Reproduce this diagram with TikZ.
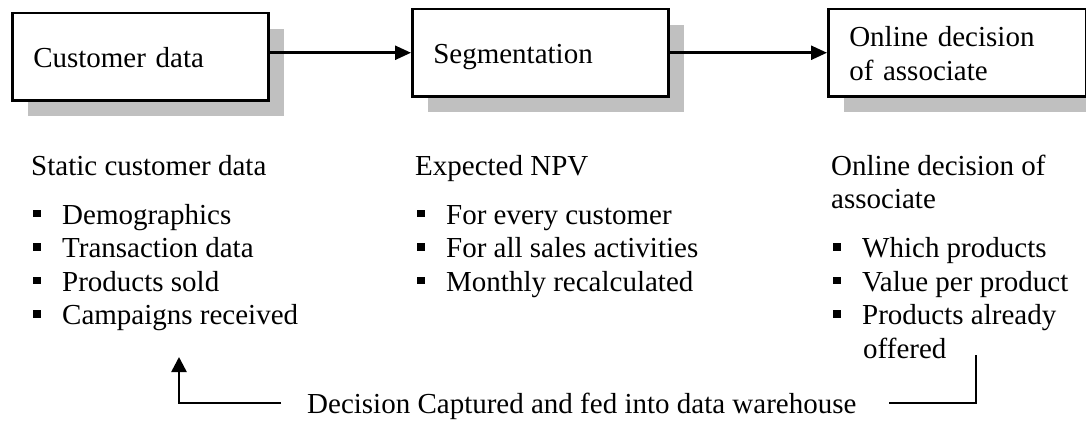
\documentclass[tikz,border=0pt]{standalone}
\usepackage{fontspec}
\setmainfont{Liberation Serif}
\usetikzlibrary{arrows.meta,shadows}
\definecolor{shadowgray}{HTML}{C0C0C0}
\newcommand\dfs{\fontsize{29pt}{33.5pt}\selectfont}
\newcommand\bul{\makebox[29pt][l]{\rule[7pt]{7.5pt}{7.5pt}}}
\tikzset{
  boxnode/.style={draw=black, line width=2.5pt, fill=white, anchor=north west,
    minimum height=87pt, inner xsep=21pt, inner ysep=0pt, align=left,
    text width=214pt, text height=21pt, text depth=0pt, font=\dfs,
    drop shadow={shadow xshift=16pt, shadow yshift=-16pt, fill=shadowgray, opacity=1}},
  arr/.style={line width=2.5pt, -{Triangle[length=16pt,width=14pt]}},
  conn/.style={line width=2.5pt},
  txt/.style={anchor=base west, inner sep=0pt, font=\dfs}
}
\begin{document}
\begin{tikzpicture}[x=1pt,y=-1pt]
\useasboundingbox (0,0) rectangle (1086,420);
% boxes
\node[boxnode] (b1) at (11,12) {Customer data};
\node[boxnode] (b2) at (411,8) {Segmentation};
\node[boxnode, text width=216pt, text depth=33.5pt] (b3) at (827,8) {Online decision\\of associate};
% arrows
\draw[arr] (b1.east |- b2.west) -- (b2.west);
\draw[arr] (b2.east) -- (b3.west);
% left column
\node[txt] (h1) at (31,175) {Static customer data};
\node[txt] (l1) at (33,224) {\bul Demographics};
\node[txt] (l2) at (33,257.5) {\bul Transaction data};
\node[txt] (l3) at (33,291) {\bul Products sold};
\node[txt] (l4) at (33,324.5) {\bul Campaigns received};
% middle column
\node[txt] (h2) at (415,175) {Expected NPV};
\node[txt] (m1) at (417,224) {\bul For every customer};
\node[txt] (m2) at (417,257.5) {\bul For all sales activities};
\node[txt] (m3) at (417,291) {\bul Monthly recalculated};
% right column
\node[txt] (h3) at (831,175) {Online decision of};
\node[txt] (h3b) at (831,208.5) {associate};
\node[txt] (r1) at (833,257.5) {\bul Which products};
\node[txt] (r2) at (833,291) {\bul Value per product};
\node[txt] (r3) at (833,324.5) {\bul Products already};
\node[txt] (r3b) at (863,358) {offered};
% feedback
\node[anchor=base west, inner xsep=26pt, inner ysep=0pt, text height=20pt, text depth=0pt, font=\dfs]
  (fb) at (281,413) {Decision Captured and fed into data warehouse};
\coordinate (rc) at (976,355);
\coordinate (lc) at (179,357);
\draw[conn] (rc) |- ([xshift=6pt]fb.east);
\draw[arr, -{Triangle[length=15pt,width=15pt]}] (fb.west) -| (lc);
\end{tikzpicture}
\end{document}
